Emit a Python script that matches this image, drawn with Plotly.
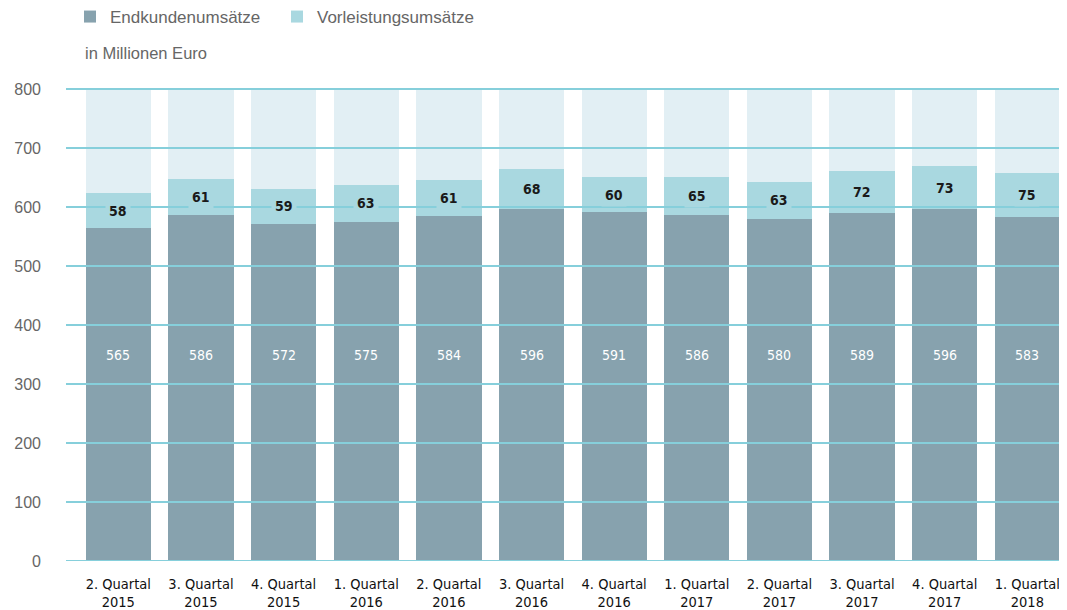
import plotly.graph_objects as go

categories = ["2. Quartal<br>2015", "3. Quartal<br>2015", "4. Quartal<br>2015", "1. Quartal<br>2016",
              "2. Quartal<br>2016", "3. Quartal<br>2016", "4. Quartal<br>2016", "1. Quartal<br>2017",
              "2. Quartal<br>2017", "3. Quartal<br>2017", "4. Quartal<br>2017", "1. Quartal<br>2018"]
endkunden = [565, 586, 572, 575, 584, 596, 591, 586, 580, 589, 596, 583]
vorleistung = [58, 61, 59, 63, 61, 68, 60, 65, 63, 72, 73, 75]
y_ticks = [0, 100, 200, 300, 400, 500, 600, 700, 800]
y_max = 800
dark_label_level = 350

C_DARK = "#87a2ae"
C_LIGHT = "#a9d8e0"
C_BG = "#e2eff4"
C_GRID = "#86cfdb"
COND = "DejaVu Sans Condensed, Liberation Sans Narrow, Roboto Condensed, serif"
REG = "Liberation Sans, Arial, sans-serif"

# page is offset by 8px body margin -> figure is 1059x602
W, H = 1059, 602
ML, MT, MB = 58, 77, 49
PW = W - ML
PH = H - MT - MB

rest = [y_max - a - b for a, b in zip(endkunden, vorleistung)]
x = list(range(len(categories)))

fig = go.Figure()
fig.add_bar(x=x, y=endkunden, name="Endkundenumsätze", marker=dict(color=C_DARK, line=dict(width=0)),
            width=0.79, hoverinfo="skip")
fig.add_bar(x=x, y=vorleistung, name="Vorleistungsumsätze", marker=dict(color=C_LIGHT, line=dict(width=0)),
            width=0.79, hoverinfo="skip")
fig.add_bar(x=x, y=rest, name="", showlegend=False, marker=dict(color=C_BG, line=dict(width=0)),
            width=0.79, hoverinfo="skip")

for t in y_ticks:
    fig.add_shape(type="line", xref="paper", x0=0, x1=1, yref="y", y0=t, y1=t,
                  line=dict(color=C_GRID, width=2), layer="above")

for i, (a, b) in enumerate(zip(endkunden, vorleistung)):
    fig.add_annotation(x=i, y=dark_label_level, text=str(a), showarrow=False,
                       font=dict(family=COND, size=14, color="white"))
    fig.add_annotation(x=i, y=a + b / 2, text=f"<b>{b}</b>", showarrow=False,
                       font=dict(family=COND, size=14, color="#1a1a1a"),
                       bgcolor=C_LIGHT, borderpad=3)

fig.add_annotation(xref="paper", yref="paper", x=(75 - ML) / PW, y=1 + (MT - 45) / PH,
                   text="in Millionen Euro", showarrow=False, xanchor="left", yanchor="middle",
                   font=dict(family=REG, size=16.5, color="#666666"))

fig.update_layout(
    barmode="stack",
    bargap=0,
    width=W, height=H,
    margin=dict(l=ML, r=0, t=MT, b=MB, autoexpand=False),
    plot_bgcolor="white", paper_bgcolor="white",
    showlegend=True,
    legend=dict(orientation="h", x=(62 - ML) / PW, xanchor="left", y=1 + (MT - 9) / PH, yanchor="middle",
                font=dict(family=REG, size=17, color="#666666"), traceorder="normal",
                entrywidth=162, entrywidthmode="pixels", itemwidth=30),
    xaxis=dict(range=[-0.633, 11.48], tickmode="array", tickvals=x, ticktext=categories,
               showgrid=False, zeroline=False, showline=False, ticks="",
               ticklabelstandoff=12,
               tickfont=dict(family=COND, size=14.5, color="#111111")),
    yaxis=dict(range=[0, y_max * PH / 472], tickmode="array", tickvals=y_ticks,
               showgrid=False, zeroline=False, showline=False, ticks="",
               ticklabelstandoff=24,
               tickfont=dict(family=REG, size=16, color="#666666")),
)

fig.write_html("out.html")
